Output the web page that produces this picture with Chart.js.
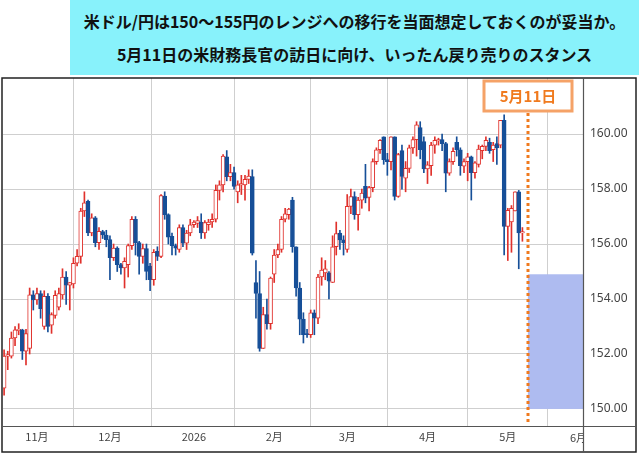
<!DOCTYPE html>
<html>
<head>
<meta charset="utf-8">
<script src="https://cdn.jsdelivr.net/npm/chart.js@4"></script>
<style>
  body { margin: 0; background: #fff; }
  #wrap { position: relative; width: 639px; height: 454px; }
  #title {
    position: absolute; left: 70px; top: 0; width: 569px; height: 75px;
    background: #88f2fb; font-family: "Noto Sans CJK JP", sans-serif;
    font-weight: bold; font-size: 16px; color: #111; text-align: center;
  }
  #title div { position: absolute; left: 0; right: 0; }
</style>
</head>
<body>
<div id="wrap">
  <canvas id="c" width="639" height="454"></canvas>
  <div id="title">
    <div style="top:9px">米ドル/円は150～155円のレンジへの移行を当面想定しておくのが妥当か。</div>
    <div style="top:42px">5月11日の米財務長官の訪日に向け、いったん戻り売りのスタンス</div>
  </div>
</div>
<script>
// daily candles, one per weekday, first one = Oct 21 2025 (index -9), Nov 3 = index 0
var open = [150.76,151.92,151.92,152.58,152.85,152.88,152.1,152.2,154.15,153.97,154.2,153.0,154.1,153.05,153.4,153.7,154.15,154.8,154.5,154.55,155.3,155.55,157.2,157.55,156.4,156.95,156.05,156.45,156.33,156.16,155.5,155.85,155.25,155.13,155.25,155.94,156.9,156.05,155.55,155.83,155.2,154.7,155.73,155.55,157.74,157.07,156.28,155.94,155.8,156.6,156.03,156.4,156.7,156.75,156.8,156.4,156.7,156.8,156.9,157.95,158.15,159.17,158.45,158.6,157.9,158.15,158.15,158.35,158.45,154.6,154.2,152.2,153.43,153.1,154.9,155.6,155.8,156.9,157.07,157.6,155.9,154.4,153.27,152.72,152.7,153.5,153.3,
  154.8,154.95,154.95,154.6,155.9,156.4,156.15,155.8,157.37,157.73,157.07,157.6,158.1,157.7,158.05,159.0,159.43,159.9,159.07,159.0,159.9,157.73,159.4,158.4,158.75,159.5,159.8,160.24,159.73,158.73,158.85,159.6,159.75,159.8,159.65,158.58,159.0,159.7,159.43,158.83,159.0,159.17,158.6,158.9,159.4,159.55,159.7,159.43,159.65,159.6,160.5,156.64,156.8,157.2,157.9,156.4];
var high = [152.15,152.1,152.8,153.0,153.1,152.9,152.9,154.4,154.3,154.4,154.3,154.3,154.2,153.5,154.3,154.4,155.1,155.0,154.6,155.5,155.8,157.3,157.9,157.6,157.1,157.0,156.6,156.5,156.5,156.3,156.0,155.9,155.3,155.5,156.0,157.0,157.0,156.1,156.0,156.0,155.3,155.8,155.9,157.8,157.9,157.1,156.4,156.0,156.7,156.7,156.5,156.9,156.85,157.0,157.1,156.85,156.9,157.1,158.15,158.3,159.25,159.4,158.9,158.8,158.3,158.5,158.5,158.7,158.7,155.4,155.0,153.7,154.0,154.8,155.8,156.0,157.0,157.3,157.3,157.7,155.9,154.6,153.5,152.9,153.6,153.6,154.9,
  155.5,155.4,155.0,156.3,156.8,156.5,156.3,157.8,158.0,157.9,157.7,158.0,158.9,158.1,159.1,159.5,159.8,159.9,159.3,159.9,159.9,159.3,159.6,159.0,159.6,159.9,160.45,160.45,159.9,159.0,159.7,159.9,159.85,160.0,159.7,159.1,159.5,159.9,159.5,159.1,159.3,159.2,159.0,159.6,159.6,159.9,159.85,159.7,159.9,160.5,160.7,157.3,157.4,157.9,157.95,156.6];
var low = [150.5,151.43,151.85,152.3,152.7,151.8,151.6,152.0,153.6,153.8,153.3,152.9,152.8,152.75,153.3,153.6,154.0,153.8,153.6,154.4,155.2,155.3,157.0,156.3,156.3,155.9,155.8,156.2,155.9,154.7,155.4,155.0,154.9,154.4,154.8,155.8,155.6,154.9,155.3,154.7,154.3,154.5,155.4,155.5,156.9,156.0,155.6,155.6,155.7,155.9,155.8,156.3,156.6,156.6,156.2,156.2,156.5,156.6,156.8,157.6,157.9,158.3,158.3,158.0,157.5,157.8,157.6,158.2,155.6,153.3,152.1,152.2,152.9,152.9,154.6,155.5,155.7,156.8,156.9,155.7,154.1,152.7,152.4,152.6,152.6,152.7,153.1,
  154.5,154.7,154.0,154.6,155.6,155.8,155.6,155.7,157.1,156.9,156.5,157.3,157.5,157.2,157.9,158.9,159.3,158.9,158.5,158.7,157.6,157.7,158.0,157.9,158.6,159.3,159.2,159.1,158.6,158.2,158.5,159.3,159.6,159.4,157.9,158.5,158.9,159.2,158.5,158.6,158.3,157.6,158.4,158.8,159.1,159.4,159.3,159.0,158.9,159.5,155.6,155.4,155.7,157.2,155.1,156.1];
var close = [151.92,151.98,152.58,152.88,152.9,152.1,152.74,154.15,153.97,154.2,153.65,154.1,153.0,153.43,154.13,154.2,154.8,154.5,154.6,155.3,155.55,157.2,157.5,156.4,156.95,156.05,156.46,156.33,156.16,155.5,155.85,155.25,155.13,155.37,155.94,156.9,156.05,155.55,155.83,155.0,154.7,155.7,155.55,157.76,157.07,156.25,155.94,155.85,156.6,156.03,156.4,156.7,156.8,156.85,156.4,156.78,156.8,156.9,157.95,158.15,159.2,158.45,158.6,158.1,158.15,158.2,158.35,158.47,155.67,154.2,152.2,153.43,153.1,154.76,155.6,155.8,156.9,157.1,157.27,155.9,154.4,153.27,152.7,152.7,153.5,153.3,154.8,
  155.05,155.1,154.65,155.9,156.38,156.15,156.05,157.37,157.73,157.07,157.6,157.85,157.67,158.05,159.0,159.43,159.77,159.07,159.0,159.9,157.73,159.25,158.46,158.75,159.5,159.8,160.34,159.43,158.73,158.88,159.6,159.77,159.8,159.65,158.58,159.0,159.37,159.43,158.85,159.0,159.17,158.6,158.95,159.45,159.55,159.77,159.4,159.6,159.5,160.5,156.64,157.23,157.3,157.9,156.4,156.45];
var firstIndex = -9;
var monthTicks = [0, 20, 43, 65, 85, 107, 129];
var monthLabels = ['11月', '12月', '2026', '2月', '3月', '4月', '5月'];
var yTicks = [150, 152, 154, 156, 158, 160];
var eventIndex = 134.5;       // 5月11日
var rangeLow = 150, rangeHigh = 154.9;

var RED = '#e0312c', BLUE = '#164f98';
var bodies = [], wicks = [], bodyFill = [], bodyLine = [], wickColor = [];
for (var i = 0; i < open.length; i++) {
  var x = firstIndex + i, up = close[i] >= open[i];
  var hi = Math.max(open[i], close[i]), lo = Math.min(open[i], close[i]);
  if (hi - lo < 0.04) hi = lo + 0.04;
  bodies.push({ x: x, y: [lo, hi] });
  wicks.push({ x: x, y: [low[i], high[i]] });
  bodyFill.push(up ? '#fff' : BLUE);
  bodyLine.push(up ? RED : BLUE);
  wickColor.push(up ? RED : BLUE);
}

var overlay = {
  id: 'overlay',
  beforeDatasetsDraw: function (chart) {
    var ctx = chart.ctx, xs = chart.scales.x, ys = chart.scales.y, a = chart.chartArea;
    ctx.save();
    ctx.fillStyle = '#aebbf0';
    var bx = xs.getPixelForValue(eventIndex);
    ctx.fillRect(bx, ys.getPixelForValue(rangeHigh), a.right - bx, ys.getPixelForValue(rangeLow) - ys.getPixelForValue(rangeHigh));
    ctx.restore();
  },
  afterDraw: function (chart) {
    var ctx = chart.ctx, xs = chart.scales.x, a = chart.chartArea;
    var bx = Math.round(xs.getPixelForValue(eventIndex));
    ctx.save();
    // frame
    ctx.strokeStyle = '#222'; ctx.lineWidth = 1.5;
    ctx.strokeRect(2, 78, 634, 374);
    ctx.lineWidth = 1.2; ctx.strokeStyle = '#555';
    ctx.beginPath();
    ctx.moveTo(a.right + 0.5, 78); ctx.lineTo(a.right + 0.5, 452);
    ctx.moveTo(2, a.bottom + 0.5); ctx.lineTo(636, a.bottom + 0.5);
    ctx.stroke();
    // dotted event line
    ctx.strokeStyle = '#f07a1e'; ctx.lineWidth = 3; ctx.setLineDash([3, 3]);
    ctx.beginPath(); ctx.moveTo(bx, 113); ctx.lineTo(bx, 424); ctx.stroke();
    ctx.setLineDash([]);
    // label box
    ctx.fillStyle = '#fff'; ctx.strokeStyle = '#f5a267'; ctx.lineWidth = 3;
    ctx.fillRect(bx - 44, 81, 88, 30); ctx.strokeRect(bx - 44, 81, 88, 30);
    ctx.fillStyle = '#f07a1e'; ctx.font = 'bold 15px "Noto Sans CJK JP"';
    ctx.textAlign = 'center'; ctx.textBaseline = 'middle';
    ctx.fillText('5月11日', bx, 96);
    // clipped 6月 label
    ctx.beginPath(); ctx.rect(0, a.bottom, a.right, 30); ctx.clip();
    ctx.fillStyle = '#444'; ctx.font = '11px "Noto Sans CJK JP"';
    ctx.fillText('6月', xs.getPixelForValue(150) - 6, 438);
    ctx.restore();
  }
};

new Chart(document.getElementById('c'), {
  type: 'bar',
  data: {
    datasets: [
      { data: bodies, backgroundColor: bodyFill, borderColor: bodyLine, borderWidth: 1,
        borderSkipped: false, barThickness: 4, grouped: false, order: 0 },
      { data: wicks, backgroundColor: wickColor, borderWidth: 0,
        barThickness: 1, grouped: false, order: 1 }
    ]
  },
  options: {
    responsive: false, animation: false,
    layout: { padding: { top: 78, left: 3, right: 0, bottom: 0 } },
    plugins: { legend: { display: false }, tooltip: { enabled: false } },
    scales: {
      x: {
        type: 'linear', min: -9.3, max: 149.6, offset: false,
        afterBuildTicks: function (ax) { ax.ticks = monthTicks.map(function (v) { return { value: v }; }); },
        afterFit: function (ax) { ax.height = 28; },
        ticks: {
          autoSkip: false, maxRotation: 0, color: '#444', padding: 4,
          font: { family: 'Noto Sans CJK JP', size: 11 },
          callback: function (v) { return monthLabels[monthTicks.indexOf(v)]; }
        },
        grid: { color: '#cfcfcf', drawTicks: false },
        border: { display: false }
      },
      y: {
        position: 'right', min: 149.38, max: 162.04,
        afterBuildTicks: function (ax) { ax.ticks = yTicks.map(function (v) { return { value: v }; }); },
        afterFit: function (ax) { ax.width = 56; },
        ticks: {
          color: '#444', padding: 7, font: { family: 'Noto Sans', size: 12 },
          callback: function (v) { return v.toFixed(2); }
        },
        grid: { color: '#cfcfcf', drawTicks: false },
        border: { display: false }
      }
    }
  },
  plugins: [overlay]
});
</script>
</body>
</html>
